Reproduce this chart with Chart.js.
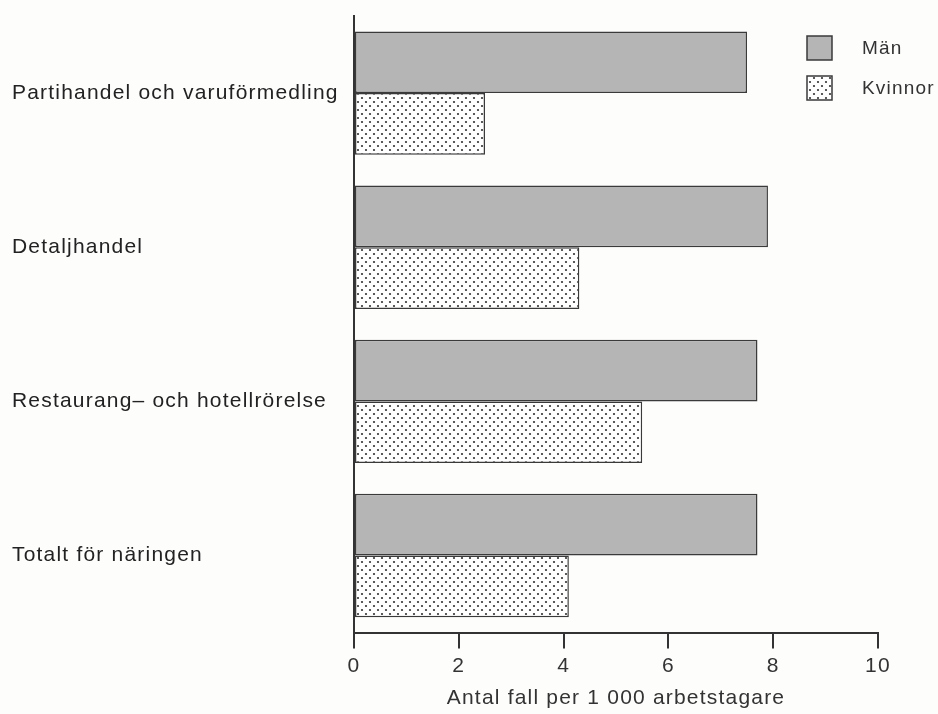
<!DOCTYPE html>
<html>
<head>
<meta charset="utf-8">
<script src="https://cdn.jsdelivr.net/npm/chart.js@4.4.1/dist/chart.umd.min.js"></script>
<style>
  html, body { margin: 0; padding: 0; background: #fdfdfc; }
  #wrap { width: 938px; height: 714px; }
</style>
</head>
<body>
<div id="wrap"><canvas id="myChart" width="938" height="714"></canvas></div>
<script>
const categories = ['Partihandel och varuförmedling', 'Detaljhandel', 'Restaurang\u2013 och hotellrörelse', 'Totalt för näringen'];
const manValues = [7.5, 7.9, 7.7, 7.7];
const kvinnorValues = [2.5, 4.3, 5.5, 4.1];
const seriesNames = ['Män', 'Kvinnor'];
const xTicks = [0, 2, 4, 6, 8, 10];

// dotted pattern for Kvinnor (staggered dots)
function makeDots() {
    const c = document.createElement('canvas');
    c.width = 8; c.height = 8;
    const g = c.getContext('2d');
    g.fillStyle = '#ffffff';
    g.fillRect(0, 0, 8, 8);
    g.fillStyle = '#333';
    g.beginPath(); g.arc(2, 2, 1.1, 0, Math.PI * 2); g.fill();
    g.beginPath(); g.arc(6, 6, 1.1, 0, Math.PI * 2); g.fill();
    return g.createPattern(c, 'repeat');
}
const dots = makeDots();
const grayFill = '#b5b5b5';
const edge = '#3a3a3a';
const font = "'Liberation Sans', Arial, sans-serif";

// a bit of letter spacing like the printed original
const spacing = {
    id: 'spacing',
    beforeUpdate(chart) { chart.ctx.letterSpacing = '1.2px'; },
    beforeDraw(chart) { chart.ctx.letterSpacing = '1.2px'; }
};

// legend drawn inside the plot, top right
const boxLegend = {
    id: 'boxLegend',
    afterDraw(chart) {
        const ctx = chart.ctx;
        const fills = [grayFill, dots];
        ctx.save();
        seriesNames.forEach((name, i) => {
            const x = 807, y = 36 + i * 40;
            ctx.fillStyle = fills[i];
            ctx.fillRect(x, y, 25, 24);
            ctx.strokeStyle = edge;
            ctx.lineWidth = 1.5;
            ctx.strokeRect(x, y, 25, 24);
            ctx.fillStyle = '#333';
            ctx.font = '19px ' + font;
            ctx.letterSpacing = '1.2px';
            ctx.textBaseline = 'middle';
            ctx.fillText(name, 862, y + 13);
        });
        ctx.restore();
    }
};

const data = {
    labels: categories,
    datasets: [{
        label: seriesNames[0],
        data: manValues,
        backgroundColor: grayFill,
        borderColor: edge,
        borderWidth: 1.5,
        borderSkipped: false
    }, {
        label: seriesNames[1],
        data: kvinnorValues,
        backgroundColor: dots,
        borderColor: edge,
        borderWidth: 1.5,
        borderSkipped: false
    }]
};

const config = {
    type: 'bar',
    data: data,
    plugins: [spacing, boxLegend],
    options: {
        indexAxis: 'y',
        responsive: false,
        animation: false,
        categoryPercentage: 0.8,
        barPercentage: 1.0,
        layout: { padding: { left: 12, right: 60, top: 16, bottom: 3 } },
        plugins: {
            legend: { display: false },
            tooltip: { enabled: false }
        },
        scales: {
            x: {
                min: 0,
                max: 10,
                afterBuildTicks: (axis) => { axis.ticks = xTicks.map(v => ({ value: v })); },
                border: { display: true, color: '#333', width: 2 },
                grid: { drawOnChartArea: false, drawTicks: true, tickLength: 16, color: '#333', lineWidth: 2 },
                ticks: { color: '#333', font: { family: font, size: 21 }, padding: 5 },
                title: {
                    display: true,
                    text: 'Antal fall per 1 000 arbetstagare',
                    color: '#333',
                    font: { family: font, size: 21 },
                    padding: { top: 2, bottom: 0 }
                }
            },
            y: {
                border: { display: true, color: '#333', width: 2 },
                grid: { display: false, drawTicks: false },
                afterFit: (axis) => {
                    axis.width = 342;
                    axis.paddingTop = 0;
                    axis.paddingBottom = 0;
                },
                ticks: {
                    color: '#222',
                    crossAlign: 'far',
                    padding: 14,
                    font: { family: font, size: 21 }
                }
            }
        }
    }
};

const myChart = new Chart(document.getElementById('myChart'), config);
</script>
</body>
</html>
